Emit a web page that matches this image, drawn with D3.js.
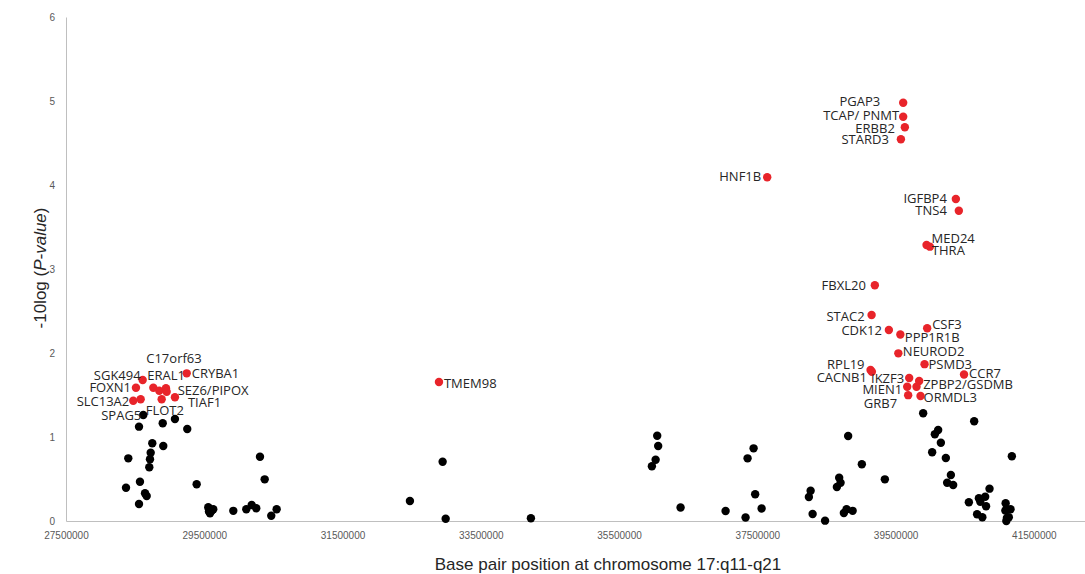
<!DOCTYPE html>
<html>
<head>
<meta charset="utf-8">
<script src="https://cdn.jsdelivr.net/npm/d3@7/dist/d3.min.js"></script>
<style>
  body { margin: 0; background: #fff; }
  svg { display: block; }
  .tick text { fill: #595959; font-family: "Liberation Sans", Arial, sans-serif; font-size: 10px; }
  .lbl { fill: #262626; font-family: "Open Sans", sans-serif; font-size: 13px; }
</style>
</head>
<body>
<div id="chart"></div>
<script>
// significant genes (red), position in bp and -10log(P)
const geneNames = ['SGK494', 'CRYBA1', 'FOXN1', 'ERAL1', 'C17orf63', 'SEZ6', 'SEZ6/PIPOX', 'SLC13A2', 'SLC13A2b',
  'FLOT2', 'TIAF1', 'TMEM98', 'HNF1B', 'PGAP3', 'TCAP/ PNMT', 'ERBB2', 'STARD3', 'IGFBP4', 'TNS4', 'MED24', 'THRA',
  'FBXL20', 'STAC2', 'CSF3', 'CDK12', 'PPP1R1B', 'NEUROD2', 'PSMD3', 'RPL19', 'CACNB1', 'CCR7', 'IKZF3',
  'ZPBP2/GSDMB', 'GSDMB', 'MIEN1', 'GRB7', 'ORMDL3'];
const genePos = [28609000, 29246000, 28512000, 28763000, 28849000, 28946000, 28956000, 28473000, 28580000,
  28884000, 29076000, 32895000, 37643000, 39610000, 39610000, 39634000, 39577000, 40372000, 40415000, 39948000, 39996000,
  39200000, 39153000, 39957000, 39403000, 39569000, 39540000, 39919000, 39138000, 39157000, 40490000, 39697000,
  39841000, 39803000, 39668000, 39682000, 39861000];
const geneP = [1.679, 1.758, 1.587, 1.587, 1.551, 1.580, 1.539, 1.432, 1.449,
  1.449, 1.473, 1.655, 4.092, 4.980, 4.813, 4.687, 4.544, 3.833, 3.694, 3.286, 3.266,
  2.806, 2.452, 2.294, 2.274, 2.220, 1.996, 1.867, 1.798, 1.777, 1.744, 1.702,
  1.667, 1.599, 1.599, 1.498, 1.488];

// other SNPs / genes (black)
const otherPos = [28618000, 28556000, 28899000, 29076000, 29254000, 28748000, 28907000, 28725000, 28715000, 28401000,
  28705000, 28368000, 28570000, 28643000, 28667000, 28556000, 29390000, 29558000, 29583000, 29607000, 29630000, 29568000,
  29920000, 30108000, 30186000, 30252000, 30306000, 30374000, 30469000, 30547000, 32475000, 32948000, 32992000, 34225000,
  36052000, 36066000, 36029000, 35975000, 36390000, 37041000, 37330000, 37446000, 37359000, 37469000, 37562000,
  38271000, 38246000, 38300000, 38480000, 38814000, 38684000, 38704000, 38651000, 38791000, 38752000, 38879000,
  39012000, 39345000, 39899000, 40116000, 40068000, 40155000, 40029000, 40227000, 40637000, 41182000, 40300000,
  40246000, 40333000, 40859000, 40560000, 40705000, 40726000, 40796000, 40809000, 40679000, 40755000, 41092000,
  41088000, 41163000, 41138000, 41102000, 41110000];
const otherP = [1.262, 1.123, 1.163, 1.214, 1.095, 0.925, 0.893, 0.813, 0.735, 0.746,
  0.639, 0.396, 0.468, 0.330, 0.298, 0.202, 0.437, 0.163, 0.092, 0.123, 0.139, 0.113,
  0.121, 0.139, 0.190, 0.151, 0.765, 0.496, 0.063, 0.139, 0.238, 0.706, 0.027, 0.033,
  1.015, 0.893, 0.730, 0.651, 0.161, 0.119, 0.042, 0.865, 0.746, 0.318, 0.149,
  0.361, 0.286, 0.083, 0.004, 1.012, 0.516, 0.456, 0.405, 0.140, 0.095, 0.121,
  0.675, 0.496, 1.282, 1.083, 1.032, 0.932, 0.818, 0.750, 1.187, 0.770, 0.548,
  0.456, 0.429, 0.385, 0.223, 0.270, 0.230, 0.289, 0.176, 0.080, 0.044, 0.211,
  0.125, 0.139, 0.044, 0.000, 0.036];

const xTicks = [27500000, 29500000, 31500000, 33500000, 35500000, 37500000, 39500000, 41500000];
const yTicks = [0, 1, 2, 3, 4, 5, 6];

// where each label sits relative to its dot: [anchor, dx, dy]
const labelPlace = {
  'SGK494': ['end', -2, -5], 'ERAL1': ['start', -6, -12.5], 'C17orf63': ['start', -13, -32],
  'CRYBA1': ['start', 5, 0.5], 'FOXN1': ['end', -5, 0], 'SEZ6/PIPOX': ['start', 11, -1.5],
  'SLC13A2': ['end', -4, 1], 'TIAF1': ['start', 13, 5], 'FLOT2': ['start', -16, 11],
  'TMEM98': ['start', 5, 1], 'HNF1B': ['end', -6, -1], 'PGAP3': ['end', -23, -1],
  'TCAP/ PNMT': ['end', -4, -1], 'ERBB2': ['end', -10, 1], 'STARD3': ['end', -12, 0],
  'IGFBP4': ['end', -9, -1], 'TNS4': ['end', -12, 0], 'MED24': ['start', 5, -7], 'THRA': ['start', 2, 4],
  'FBXL20': ['end', -9, 0], 'STAC2': ['end', -7, 1], 'CSF3': ['start', 5, -4], 'CDK12': ['end', -7, 0],
  'PPP1R1B': ['start', 4.5, 2.5], 'NEUROD2': ['start', 4.5, -2], 'PSMD3': ['start', 4, 0],
  'RPL19': ['end', -6, -6], 'CACNB1': ['end', -5, 6], 'CCR7': ['start', 5, -1.5], 'IKZF3': ['end', -5, 0],
  'ZPBP2/GSDMB': ['start', 4, 3], 'MIEN1': ['end', -5, 3], 'GRB7': ['end', -11, 8], 'ORMDL3': ['start', 3, 1],
  'SPAG5': ['end', -2, 0]
};

const width = 1085, height = 574;
const svg = d3.select('#chart').append('svg').attr('width', width).attr('height', height);

const x = d3.scaleLinear().domain([27500000, 42240000]).range([66, 1085]);
const y = d3.scaleLinear().domain([0, 6]).range([521, 17]);

const xAxis = d3.axisBottom(x).tickValues(xTicks).tickSize(0).tickPadding(11).tickFormat(d3.format('d'));
const yAxis = d3.axisLeft(y).tickValues(yTicks).tickSize(0).tickPadding(11).tickFormat(d3.format('d'));

const gx = svg.append('g').attr('transform', 'translate(0,521)').call(xAxis);
const gy = svg.append('g').attr('transform', 'translate(66,0)').call(yAxis);
gx.select('.domain').attr('stroke', '#bfbfbf');
gy.select('.domain').attr('stroke', '#bfbfbf');

// black dots
svg.append('g').selectAll('circle')
  .data(otherPos)
  .enter()
  .append('circle')
  .attr('cx', d => x(d))
  .attr('cy', (d, i) => y(otherP[i]))
  .attr('r', 4.2)
  .attr('fill', '#000');

// red dots
svg.append('g').selectAll('circle')
  .data(genePos)
  .enter()
  .append('circle')
  .attr('cx', d => x(d))
  .attr('cy', (d, i) => y(geneP[i]))
  .attr('r', 4.2)
  .attr('fill', '#e8242a');

// SPAG5 is labelled although its dot is black
const labelled = geneNames.map((n, i) => ({ name: n, pos: genePos[i], p: geneP[i] }))
  .concat([{ name: 'SPAG5', pos: otherPos[0], p: otherP[0] }]);

svg.append('g').selectAll('text')
  .data(labelled.filter(d => labelPlace[d.name]))
  .enter()
  .append('text')
  .attr('class', 'lbl')
  .attr('x', d => x(d.pos) + labelPlace[d.name][1])
  .attr('y', d => y(d.p) + labelPlace[d.name][2])
  .attr('dy', '0.35em')
  .attr('text-anchor', d => labelPlace[d.name][0])
  .text(d => d.name);

svg.append('text')
  .attr('x', 608)
  .attr('y', 570)
  .attr('text-anchor', 'middle')
  .style('font-family', '"Liberation Sans Narrow", "Liberation Sans", sans-serif')
  .style('font-size', '17px')
  .style('fill', '#262626')
  .text('Base pair position at chromosome 17:q11-q21');

const yt = svg.append('text')
  .attr('transform', 'translate(46,268) rotate(-90)')
  .attr('text-anchor', 'middle')
  .style('font-family', '"Liberation Sans", sans-serif')
  .style('font-size', '17px')
  .style('fill', '#262626');
yt.append('tspan').text('-10log (');
yt.append('tspan').style('font-style', 'italic').text('P-value');
yt.append('tspan').text(')');
</script>
</body>
</html>
